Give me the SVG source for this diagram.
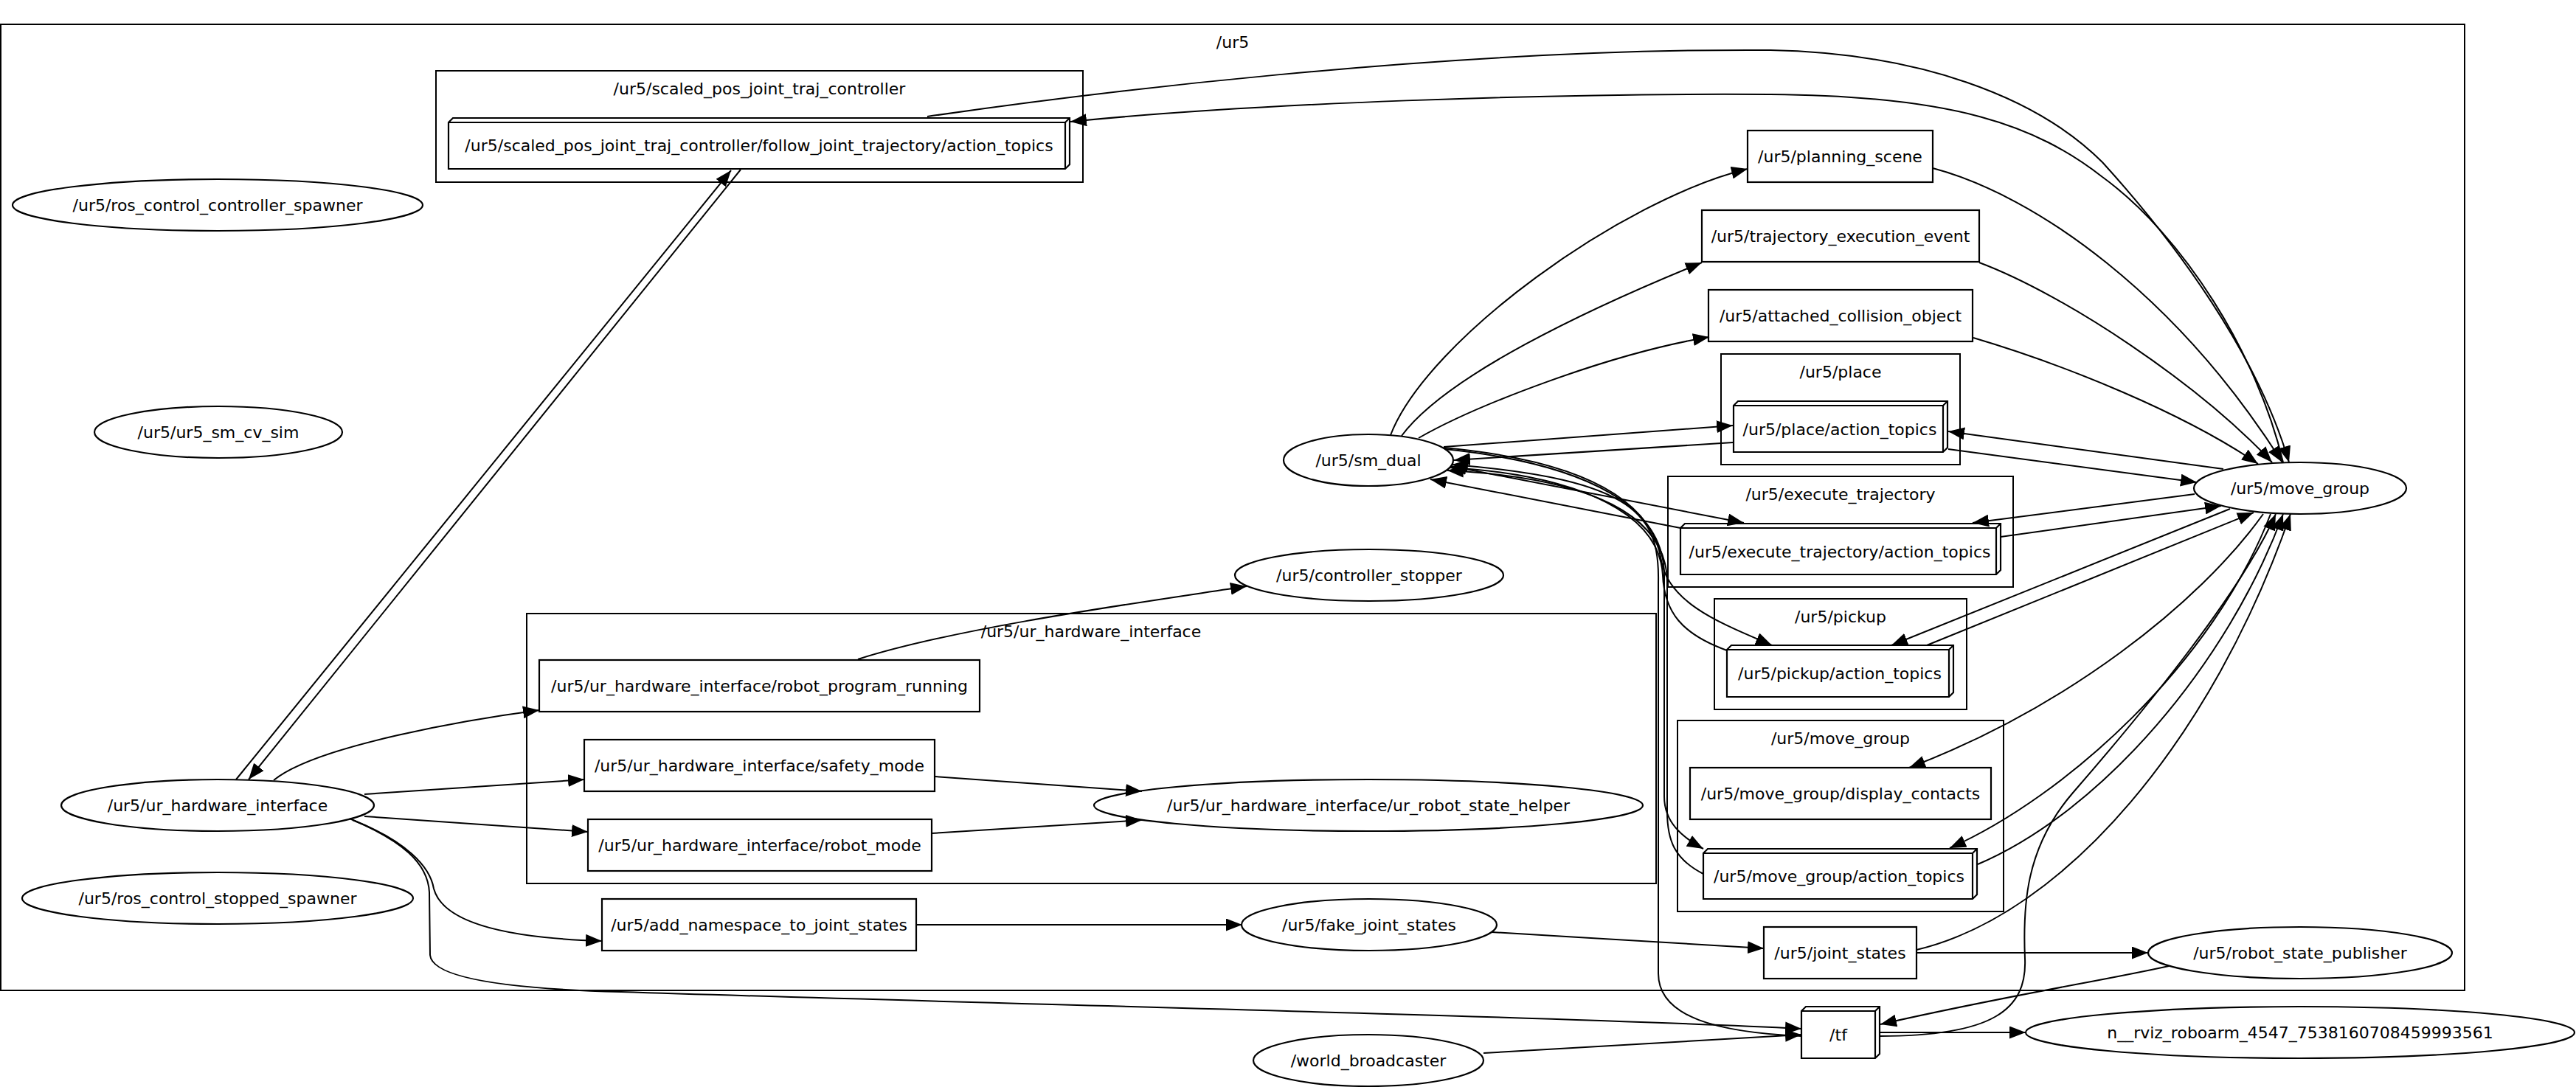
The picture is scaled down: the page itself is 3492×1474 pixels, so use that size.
<svg xmlns="http://www.w3.org/2000/svg" width="3492" height="1474" viewBox="0 0 3492 1474">
<style>
text{font-family:"DejaVu Sans","Liberation Sans",sans-serif;font-size:22px;fill:#000;text-anchor:middle}
.cl{fill:none;stroke:#000;stroke-width:2}
.nd{fill:none;stroke:#000;stroke-width:2.2}
.e{fill:none;stroke:#000;stroke-width:2;marker-end:url(#ah)}
</style>
<defs>
<marker id="ah" markerUnits="userSpaceOnUse" markerWidth="22" markerHeight="17" refX="22" refY="8.5" orient="auto" viewBox="0 0 22 17"><path d="M0,0 L22,8.5 L0,17 z" fill="#000"/></marker>
</defs>
<rect width="3492" height="1474" fill="#fff"/>
<g id="clusters">
<g id="cluster_ur5"><rect class="cl" x="1" y="33" width="3340" height="1310"/><text x="1671" y="65">/ur5</text></g>
<g id="cluster_scaled_pos"><rect class="cl" x="591" y="96" width="877" height="151"/><text x="1029.5" y="128">/ur5/scaled_pos_joint_traj_controller</text></g>
<g id="cluster_ur_hw"><rect class="cl" x="714" y="832" width="1531" height="366"/><text x="1479" y="864">/ur5/ur_hardware_interface</text></g>
<g id="cluster_place"><rect class="cl" x="2333" y="480" width="324" height="150"/><text x="2495" y="512">/ur5/place</text></g>
<g id="cluster_exec"><rect class="cl" x="2261" y="646" width="468" height="150"/><text x="2495" y="678">/ur5/execute_trajectory</text></g>
<g id="cluster_pickup"><rect class="cl" x="2324" y="812" width="342" height="150"/><text x="2495" y="844">/ur5/pickup</text></g>
<g id="cluster_move_group"><rect class="cl" x="2274" y="977" width="442" height="259"/><text x="2495" y="1009">/ur5/move_group</text></g>
</g>
<g id="edges">
<path class="e" d="M320,1057 L991,231"/>
<path class="e" d="M1004,230 L337,1057"/>
<path class="e" d="M1257,158 C1450,130 1950,65 2400,68 C2600,72 2760,130 2850,220 C2950,330 3060,480 3103,627"/>
<path class="e" d="M3095,627 C3060,480 2960,320 2850,240 C2760,170 2650,130 2400,128 C2100,126 1700,140 1451,165"/>
<path class="e" d="M2620,228 C2760,265 2950,400 3094,627"/>
<path class="e" d="M2683,356 C2800,400 2980,520 3080,627"/>
<path class="e" d="M2675,458 C2800,495 2960,560 3061,629"/>
<path class="e" d="M1885,590 C1935,460 2200,270 2369,229"/>
<path class="e" d="M1900,591 C1960,510 2150,420 2307,356"/>
<path class="e" d="M1923,594 C2000,550 2180,480 2317,457"/>
<path class="e" d="M1957,606 L2349,577"/>
<path class="e" d="M2349,600 L1971,624"/>
<path class="e" d="M1966,632 L2364,709"/>
<path class="e" d="M2278,716 L1939,650"/>
<path class="e" d="M1957,607 C2150,625 2240,680 2252,760 C2262,820 2340,848 2402,875"/>
<path class="e" d="M2341,882 C2280,860 2256,830 2254,780 C2250,700 2150,645 1965,634"/>
<path class="e" d="M1959,609 C2160,630 2256,690 2256,780 L2256,1080 C2256,1115 2280,1135 2309,1151"/>
<path class="e" d="M2309,1185 C2270,1165 2260,1140 2260,1100 L2260,790 C2260,700 2160,648 1962,638"/>
<path class="e" d="M2442,1405 C2330,1400 2248,1380 2248,1320 L2248,790 C2250,700 2220,650 1968,630"/>
<path class="e" d="M2641,609 L2978,654"/>
<path class="e" d="M3014,636 L2641,585"/>
<path class="e" d="M2975,670 L2674,709"/>
<path class="e" d="M2712,728 L3011,686"/>
<path class="e" d="M3023,690 L2564,875"/>
<path class="e" d="M2612,875 L3055,695"/>
<path class="e" d="M3068,697 C2980,820 2800,960 2588,1041"/>
<path class="e" d="M3078,697 C3000,900 2800,1080 2643,1150"/>
<path class="e" d="M2681,1172 C2850,1100 3020,900 3095,697"/>
<path class="e" d="M2598,1288 C2800,1240 3000,1000 3105,697"/>
<path class="e" d="M2548,1405 C2700,1405 2748,1370 2745,1300 C2742,1230 2745,1150 2810,1075 C2910,960 3040,800 3085,697"/>
<path class="e" d="M371,1058 C430,1010 640,975 731,963"/>
<path class="e" d="M494,1077 L792,1057"/>
<path class="e" d="M494,1107 L797,1128"/>
<path class="e" d="M478,1112 C550,1140 583,1175 588,1205 C600,1250 680,1272 816,1276"/>
<path class="e" d="M474,1110 C545,1140 580,1170 582,1210 L583,1295 C585,1320 650,1340 842,1345 C1300,1360 2100,1378 2442,1395"/>
<path class="e" d="M1163,894 C1300,850 1560,815 1690,795"/>
<path class="e" d="M1267,1053 L1548,1073"/>
<path class="e" d="M1263,1130 L1548,1112"/>
<path class="e" d="M1242,1254 L1684,1254"/>
<path class="e" d="M2022,1264 L2391,1286"/>
<path class="e" d="M2598,1292 L2912,1292"/>
<path class="e" d="M2940,1310 C2850,1330 2720,1350 2549,1389"/>
<path class="e" d="M2548,1400 L2746,1400"/>
<path class="e" d="M2011,1428 L2442,1403"/>
</g>
<g id="n_follow_joint_trajectory"><path class="nd" d="M608,166 L614,160 L1450,160 L1450,223 L1444,229 L608,229 Z M608,166 L1444,166 L1450,160 M1444,166 L1444,229"/><text x="1029" y="205">/ur5/scaled_pos_joint_traj_controller/follow_joint_trajectory/action_topics</text></g>
<g id="n_ros_control_controller_spawner"><ellipse class="nd" cx="295" cy="278" rx="278" ry="35"/><text x="295" y="286">/ur5/ros_control_controller_spawner</text></g>
<g id="n_ur5_sm_cv_sim"><ellipse class="nd" cx="296" cy="586" rx="168" ry="35"/><text x="296" y="594">/ur5/ur5_sm_cv_sim</text></g>
<g id="n_ur_hardware_interface"><ellipse class="nd" cx="295" cy="1092" rx="212" ry="35"/><text x="295" y="1100">/ur5/ur_hardware_interface</text></g>
<g id="n_ros_control_stopped_spawner"><ellipse class="nd" cx="295" cy="1218" rx="265" ry="35"/><text x="295" y="1226">/ur5/ros_control_stopped_spawner</text></g>
<g id="n_robot_program_running"><rect class="nd" x="731" y="895" width="597" height="70"/><text x="1029.5" y="938">/ur5/ur_hardware_interface/robot_program_running</text></g>
<g id="n_safety_mode"><rect class="nd" x="792" y="1003" width="475" height="70"/><text x="1029.5" y="1046">/ur5/ur_hardware_interface/safety_mode</text></g>
<g id="n_robot_mode"><rect class="nd" x="797" y="1111" width="466" height="70"/><text x="1030" y="1154">/ur5/ur_hardware_interface/robot_mode</text></g>
<g id="n_ur_robot_state_helper"><ellipse class="nd" cx="1855" cy="1092" rx="372" ry="35"/><text x="1855" y="1100">/ur5/ur_hardware_interface/ur_robot_state_helper</text></g>
<g id="n_add_namespace_to_joint_states"><rect class="nd" x="816" y="1219" width="426" height="70"/><text x="1029" y="1262">/ur5/add_namespace_to_joint_states</text></g>
<g id="n_fake_joint_states"><ellipse class="nd" cx="1856" cy="1254" rx="173" ry="35"/><text x="1856" y="1262">/ur5/fake_joint_states</text></g>
<g id="n_controller_stopper"><ellipse class="nd" cx="1856" cy="780" rx="182" ry="35"/><text x="1856" y="788">/ur5/controller_stopper</text></g>
<g id="n_sm_dual"><ellipse class="nd" cx="1855" cy="624" rx="115" ry="35"/><text x="1855" y="632">/ur5/sm_dual</text></g>
<g id="n_world_broadcaster"><ellipse class="nd" cx="1855" cy="1438" rx="156" ry="35"/><text x="1855" y="1446">/world_broadcaster</text></g>
<g id="n_planning_scene"><rect class="nd" x="2369" y="177" width="251" height="70"/><text x="2494.5" y="220">/ur5/planning_scene</text></g>
<g id="n_trajectory_execution_event"><rect class="nd" x="2307" y="285" width="376" height="70"/><text x="2495" y="328">/ur5/trajectory_execution_event</text></g>
<g id="n_attached_collision_object"><rect class="nd" x="2316" y="393" width="358" height="70"/><text x="2495" y="436">/ur5/attached_collision_object</text></g>
<g id="n_place_action_topics"><path class="nd" d="M2350,550 L2356,544 L2640,544 L2640,607 L2634,613 L2350,613 Z M2350,550 L2634,550 L2640,544 M2634,550 L2634,613"/><text x="2494" y="590">/ur5/place/action_topics</text></g>
<g id="n_execute_trajectory_action_topics"><path class="nd" d="M2278,716 L2284,710 L2712,710 L2712,773 L2706,779 L2278,779 Z M2278,716 L2706,716 L2712,710 M2706,716 L2706,779"/><text x="2494" y="756">/ur5/execute_trajectory/action_topics</text></g>
<g id="n_pickup_action_topics"><path class="nd" d="M2341,881 L2347,875 L2648,875 L2648,939 L2642,945 L2341,945 Z M2341,881 L2642,881 L2648,875 M2642,881 L2642,945"/><text x="2494" y="921">/ur5/pickup/action_topics</text></g>
<g id="n_display_contacts"><rect class="nd" x="2291" y="1041" width="408" height="70"/><text x="2495" y="1084">/ur5/move_group/display_contacts</text></g>
<g id="n_move_group_action_topics"><path class="nd" d="M2309,1157 L2315,1151 L2680,1151 L2680,1213 L2674,1219 L2309,1219 Z M2309,1157 L2674,1157 L2680,1151 M2674,1157 L2674,1219"/><text x="2493" y="1196">/ur5/move_group/action_topics</text></g>
<g id="n_move_group"><ellipse class="nd" cx="3118" cy="662" rx="144" ry="35"/><text x="3118" y="670">/ur5/move_group</text></g>
<g id="n_joint_states"><rect class="nd" x="2391" y="1257" width="207" height="70"/><text x="2494.5" y="1300">/ur5/joint_states</text></g>
<g id="n_robot_state_publisher"><ellipse class="nd" cx="3118" cy="1292" rx="206" ry="35"/><text x="3118" y="1300">/ur5/robot_state_publisher</text></g>
<g id="n_tf"><path class="nd" d="M2442,1371 L2448,1365 L2548,1365 L2548,1429 L2542,1435 L2442,1435 Z M2442,1371 L2542,1371 L2548,1365 M2542,1371 L2542,1435"/><text x="2492" y="1411">/tf</text></g>
<g id="n_rviz"><ellipse class="nd" cx="3118" cy="1400" rx="372" ry="35"/><text x="3118" y="1408">n__rviz_roboarm_4547_7538160708459993561</text></g>
</svg>
